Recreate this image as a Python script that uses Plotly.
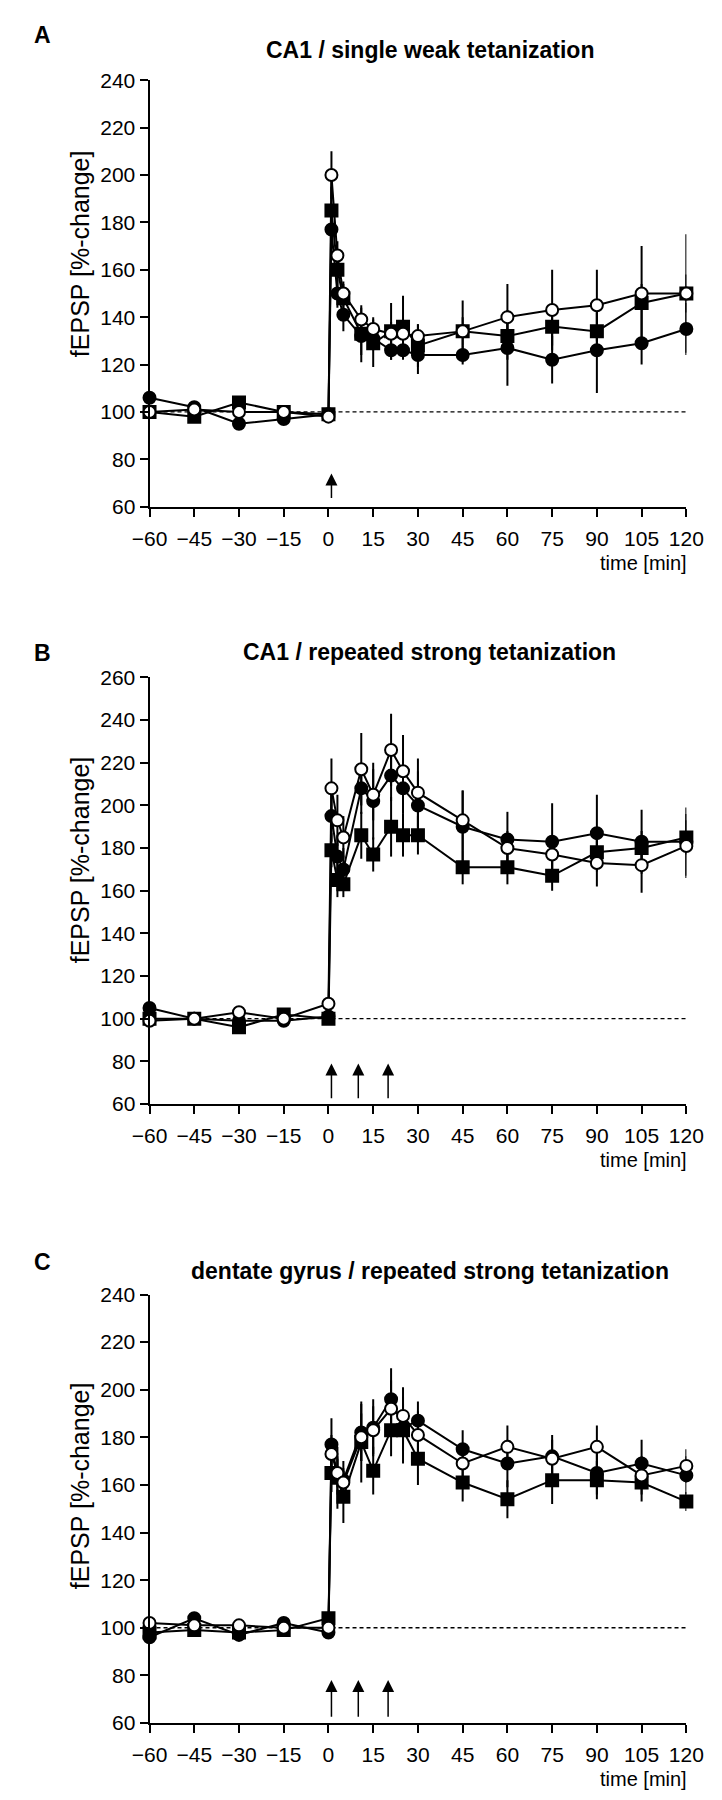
import plotly.graph_objects as go

W, H = 722, 1800

# time points [min]
times = [-60, -45, -30, -15, 0, 1, 3, 5, 11, 15, 21, 25, 30, 45, 60, 75, 90, 105, 120]
xticks = [-60, -45, -30, -15, 0, 15, 30, 45, 60, 75, 90, 105, 120]

# A: CA1 / single weak tetanization
a_open = [100, 101, 100, 100, 98, 200, 166, 150, 139, 135, 133, 133, 132, 134, 140, 143, 145, 150, 150]
a_open_err = [2, 2, 2, 1, 2, 10, 6, 5, 5, 5, 5, 5, 5, 13, 14, 17, 15, 20, 25]
a_filled = [106, 102, 95, 97, 99, 177, 150, 141, 132, 131, 126, 126, 124, 124, 127, 122, 126, 129, 135]
a_filled_err = [2, 2, 2, 2, 1, 8, 6, 7, 8, 5, 4, 4, 8, 4, 16, 10, 18, 9, 11]
a_square = [100, 98, 104, 100, 99, 185, 160, 148, 133, 129, 134, 136, 128, 134, 132, 136, 134, 146, 150]
a_square_err = [2, 2, 2, 2, 1, 10, 8, 6, 12, 10, 12, 13, 9, 6, 10, 8, 8, 8, 8]

# B: CA1 / repeated strong tetanization
b_open = [99, 100, 103, 100, 107, 208, 193, 185, 217, 205, 226, 216, 206, 193, 180, 177, 173, 172, 181]
b_open_err = [2, 2, 2, 2, 3, 14, 12, 10, 17, 12, 17, 17, 16, 14, 8, 9, 11, 13, 15]
b_filled = [105, 100, 99, 99, 101, 195, 176, 170, 208, 202, 214, 208, 200, 190, 184, 183, 187, 183, 183]
b_filled_err = [2, 3, 2, 2, 2, 12, 10, 10, 12, 18, 12, 12, 16, 17, 13, 18, 18, 15, 16]
b_square = [100, 100, 96, 102, 100, 179, 165, 163, 186, 177, 190, 186, 186, 171, 171, 167, 178, 180, 185]
b_square_err = [2, 3, 2, 2, 2, 8, 8, 6, 11, 8, 14, 10, 9, 8, 8, 7, 8, 8, 8]

# C: dentate gyrus / repeated strong tetanization
c_open = [102, 101, 101, 100, 100, 173, 165, 161, 180, 183, 192, 189, 181, 169, 176, 171, 176, 164, 168]
c_open_err = [2, 2, 2, 2, 2, 8, 6, 6, 10, 10, 12, 12, 10, 8, 9, 8, 9, 8, 7]
c_filled = [96, 104, 97, 102, 98, 177, 164, 162, 182, 184, 196, 184, 187, 175, 169, 172, 165, 169, 164]
c_filled_err = [2, 2, 2, 2, 2, 11, 8, 8, 12, 12, 13, 10, 8, 8, 10, 9, 9, 10, 8]
c_square = [98, 99, 98, 99, 104, 165, 163, 155, 178, 166, 183, 183, 171, 161, 154, 162, 162, 161, 153]
c_square_err = [2, 2, 2, 2, 2, 8, 13, 11, 17, 10, 11, 14, 11, 8, 8, 10, 8, 8, 4]

tetanus_a = [1]
tetanus_bc = [1, 10, 20]

FONT = "Liberation Sans, Arial, sans-serif"


def px(x):
    return x / W


def py(y):
    return 1 - y / H


# pixel geometry (top/bottom of plot, title line, y-label centre)
panels = [
    dict(letter="A", title="CA1 / single weak tetanization", top=61, bot=493, ymax=240,
         title_y=30, letter_y=15, ylab_y=237,
         sq=(a_square, a_square_err), fi=(a_filled, a_filled_err), op=(a_open, a_open_err),
         arrows=tetanus_a, arrow=(63, 74)),
    dict(letter="B", title="CA1 / repeated strong tetanization", top=666, bot=1098, ymax=260,
         title_y=640, letter_y=641, ylab_y=851,
         sq=(b_square, b_square_err), fi=(b_filled, b_filled_err), op=(b_open, b_open_err),
         arrows=tetanus_bc, arrow=(62, 79)),
    dict(letter="C", title="dentate gyrus / repeated strong tetanization", top=1291, bot=1725, ymax=240,
         title_y=1267, letter_y=1258, ylab_y=1485,
         sq=(c_square, c_square_err), fi=(c_filled, c_filled_err), op=(c_open, c_open_err),
         arrows=tetanus_bc, arrow=(62, 78)),
]

X0, X1 = 130, 695

fig = go.Figure()
annotations = []
shapes = []
layout = {}

for i, p in enumerate(panels):
    n = "" if i == 0 else str(i + 1)
    xa, ya = "x" + n, "y" + n
    for key, sym, fill in [("sq", "square", "black"), ("fi", "circle", "black"), ("op", "circle", "white")]:
        vals, err = p[key]
        fig.add_trace(go.Scatter(
            x=times, y=vals, xaxis=xa, yaxis=ya, mode="lines+markers",
            line=dict(color="black", width=2),
            marker=dict(symbol=sym, size=12, color=fill, line=dict(color="black", width=2)),
            error_y=dict(type="data", array=err, color="black", thickness=2, width=0),
            cliponaxis=False, showlegend=False))

    layout["xaxis" + n] = dict(
        domain=[px(X0), px(X1)], anchor=ya, range=[-60, 120], tickvals=xticks, tickangle=0,
        ticks="outside", ticklen=8, tickwidth=2, tickcolor="black", ticklabelstandoff=4,
        showline=True, linecolor="black", linewidth=2, showgrid=False, zeroline=False,
        tickfont=dict(family=FONT, size=21, color="black"))
    layout["yaxis" + n] = dict(
        domain=[py(p["bot"]), py(p["top"])], anchor=xa, range=[60, p["ymax"]],
        tick0=60, dtick=20, ticks="outside", ticklen=8, tickwidth=2, tickcolor="black",
        showline=True, linecolor="black", linewidth=2, showgrid=False, zeroline=False,
        tickfont=dict(family=FONT, size=21, color="black"))

    # baseline
    shapes.append(dict(type="line", xref=xa, yref=ya, x0=-60, x1=120, y0=100, y1=100,
                       line=dict(color="black", width=1.3, dash="4px,3px"), layer="below"))

    # tetanization arrows
    for t in p["arrows"]:
        annotations.append(dict(x=t, y=p["arrow"][1], ax=t, ay=p["arrow"][0], xref=xa, yref=ya,
                                axref=xa, ayref=ya, text="", showarrow=True, arrowhead=2,
                                arrowsize=1.6, arrowwidth=1.5, arrowcolor="black"))

    # texts
    annotations.append(dict(x=px(6), y=py(p["letter_y"]), xref="paper", yref="paper",
                            xanchor="left", yanchor="middle", text="<b>%s</b>" % p["letter"],
                            showarrow=False, font=dict(family=FONT, size=23, color="black")))
    annotations.append(dict(x=px(425), y=py(p["title_y"]), xref="paper", yref="paper",
                            xanchor="center", yanchor="middle", text="<b>%s</b>" % p["title"],
                            showarrow=False, font=dict(family=FONT, size=23, color="black")))
    annotations.append(dict(x=px(57), y=py(p["ylab_y"]), xref="paper", yref="paper",
                            xanchor="center", yanchor="middle", text="fEPSP [%-change]", textangle=-90,
                            showarrow=False, font=dict(family=FONT, size=25, color="black")))
    annotations.append(dict(x=px(698), y=py(p["bot"] + 57), xref="paper", yref="paper",
                            xanchor="right", yanchor="middle", text="time [min]",
                            showarrow=False, font=dict(family=FONT, size=20, color="black")))

fig.update_layout(width=W, height=H, margin=dict(l=0, r=0, t=0, b=0),
                  paper_bgcolor="white", plot_bgcolor="white",
                  annotations=annotations, shapes=shapes, **layout)
fig.write_html("out.html")
